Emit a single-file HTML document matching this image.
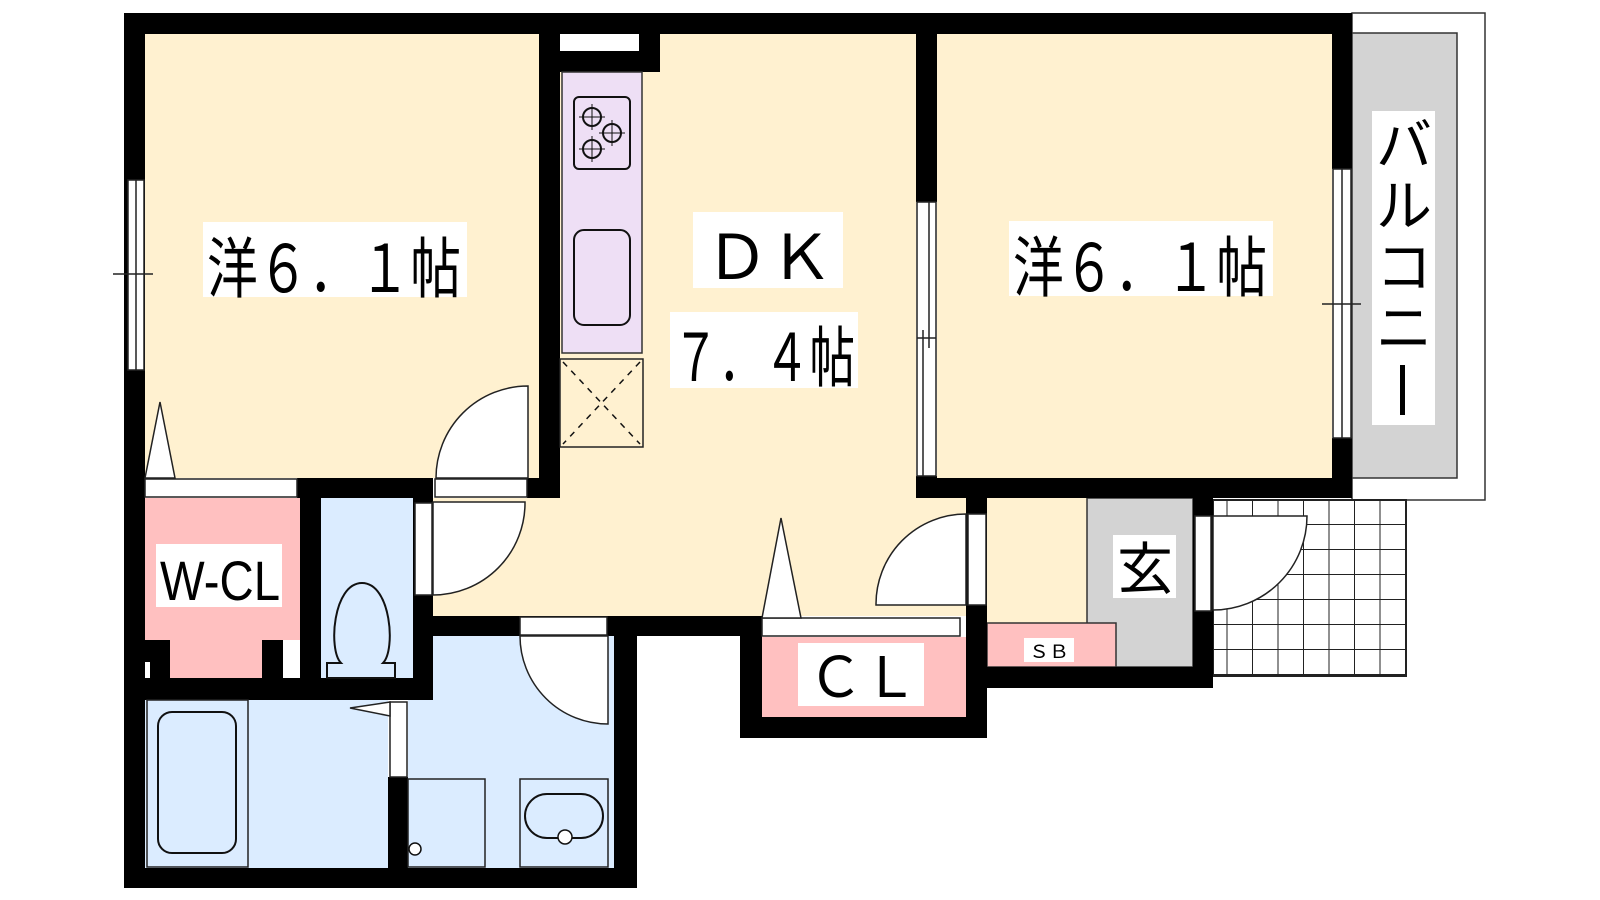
<!DOCTYPE html>
<html><head><meta charset="utf-8"><style>
html,body{margin:0;padding:0;background:#fff;}
svg{display:block;}
text{font-family:"Liberation Sans","Noto Sans CJK JP",sans-serif;fill:#000;}
</style></head><body>
<svg width="1600" height="900" viewBox="0 0 1600 900" xmlns="http://www.w3.org/2000/svg">
<defs>
<pattern id="grid" x="1202" y="475" width="25.5" height="25" patternUnits="userSpaceOnUse">
<rect width="25.5" height="25" fill="#fff"/>
<path d="M25.5 0V25M0 25H25.5" stroke="#222" stroke-width="2" fill="none"/>
</pattern>
</defs>
<rect x="1352" y="13" width="133" height="487" fill="#fff" stroke="#333" stroke-width="1.5"/>
<rect x="1352" y="33" width="105" height="445" fill="#d3d3d3" stroke="#333" stroke-width="1.5"/>
<rect x="1213" y="500" width="193" height="176" fill="url(#grid)" stroke="#222" stroke-width="2"/>
<rect x="145" y="34" width="394" height="444" fill="#fff1d0"/>
<rect x="560" y="34" width="356" height="582" fill="#fff1d0"/>
<rect x="433" y="498" width="533" height="118" fill="#fff1d0"/>
<rect x="937" y="34" width="395" height="444" fill="#fff1d0"/>
<rect x="987" y="498" width="100" height="125" fill="#fff1d0"/>
<rect x="1087" y="498" width="106" height="169" fill="#d3d3d3" stroke="#333" stroke-width="1.5"/>
<rect x="987" y="623" width="129" height="44" fill="#ffc0c0" stroke="#333" stroke-width="1.5"/>
<rect x="145" y="498" width="155" height="142" fill="#ffc0c0"/>
<rect x="170" y="640" width="92" height="38" fill="#ffc0c0"/>
<rect x="761" y="637" width="205" height="80" fill="#ffc0c0"/>
<rect x="321" y="498" width="92" height="180" fill="#dbecff"/>
<rect x="145" y="700" width="243" height="168" fill="#dbecff"/>
<rect x="408" y="636" width="206" height="232" fill="#dbecff"/>
<g fill="#000">
<rect x="124" y="13" width="1228" height="21"/>
<rect x="124" y="13" width="21" height="875"/>
<rect x="124" y="868" width="513" height="20"/>
<rect x="614" y="616" width="23" height="272"/>
<rect x="539" y="34" width="21" height="464"/>
<rect x="297" y="478" width="136" height="20"/>
<rect x="527" y="478" width="33" height="20"/>
<rect x="560" y="51" width="100" height="21"/>
<rect x="639" y="34" width="21" height="38"/>
<rect x="300" y="498" width="21" height="180"/>
<rect x="413" y="498" width="20" height="202"/>
<rect x="124" y="678" width="309" height="22"/>
<rect x="145" y="640" width="25" height="38"/>
<rect x="262" y="640" width="21" height="38"/>
<rect x="388" y="777" width="20" height="91"/>
<rect x="433" y="616" width="329" height="20"/>
<rect x="740" y="616" width="22" height="122"/>
<rect x="740" y="717" width="247" height="21"/>
<rect x="966" y="478" width="21" height="260"/>
<rect x="916" y="34" width="21" height="168"/>
<rect x="916" y="476" width="21" height="22"/>
<rect x="916" y="478" width="436" height="20"/>
<rect x="1332" y="13" width="20" height="156"/>
<rect x="1332" y="438" width="20" height="60"/>
<rect x="987" y="667" width="226" height="21"/>
<rect x="1193" y="498" width="20" height="190"/>
</g>
<rect x="145" y="662" width="5" height="16" fill="#fff"/>
<rect x="283" y="662" width="17" height="16" fill="#fff"/>
<rect x="560" y="34" width="79" height="17" fill="#fff"/>
<g stroke="#222" stroke-width="1.5" fill="#fff">
<rect x="128" y="180" width="16" height="190"/>
<line x1="136" y1="180" x2="136" y2="370"/>
<line x1="113" y1="274" x2="153" y2="274"/>
<rect x="917" y="202" width="19" height="274"/>
<line x1="929" y1="202" x2="929" y2="348"/>
<line x1="923" y1="330" x2="923" y2="476"/>
<line x1="917" y1="338" x2="936" y2="338"/>
<rect x="1333" y="169" width="18" height="269"/>
<line x1="1342" y1="169" x2="1342" y2="438"/>
<line x1="1322" y1="304" x2="1361" y2="304"/>
<rect x="145" y="479" width="152" height="18"/>
<rect x="435" y="479" width="92" height="18"/>
<rect x="762" y="618" width="198" height="18"/>
<rect x="520" y="617" width="87" height="18"/>
<rect x="415" y="503" width="17" height="92"/>
<rect x="390" y="702" width="17" height="75"/>
<rect x="968" y="514" width="18" height="91"/>
<rect x="1195" y="516" width="16" height="95"/>
<path d="M528 386 V478 H436 A92 92 0 0 1 528 386 Z"/>
<path d="M433 502 H525 A92 92 0 0 1 433 595 Z"/>
<path d="M520 636 H608 V724 A88 88 0 0 1 520 636 Z"/>
<path d="M966 514 V605 H876 A90 90 0 0 1 966 514 Z"/>
<path d="M1213 516 H1307 A94 94 0 0 1 1213 610 Z"/>
<path d="M160 402 L145 478 H175 Z"/>
<path d="M781 518 L762 618 H801 Z"/>
<path d="M350 708 L390 702 V716 Z"/>
</g>
<rect x="562" y="72" width="80" height="281" fill="#eedff5" stroke="#333" stroke-width="1.5"/>
<rect x="574" y="97" width="56" height="72" rx="5" fill="none" stroke="#111" stroke-width="2"/>
<g fill="none" stroke="#111" stroke-width="2">
<circle cx="592" cy="117" r="9"/><circle cx="612" cy="133" r="9"/><circle cx="592" cy="149" r="9"/>
<path d="M579 117h26M592 104v26M599 133h26M612 120v26M579 149h26M592 136v26" stroke-width="1"/>
</g>
<rect x="574" y="230" width="56" height="95" rx="10" fill="none" stroke="#111" stroke-width="2"/>
<rect x="560" y="359" width="83" height="88" fill="#fff1d0" stroke="#222" stroke-width="1.5"/>
<path d="M563 362 L640 444 M640 362 L563 444" stroke="#111" stroke-width="1.5" stroke-dasharray="6 6"/>
<path d="M341 663 C328 650 333 583 362 583 C391 583 396 650 383 663 H395 V678 H327 V663 Z" fill="none" stroke="#111" stroke-width="2"/>
<rect x="147" y="700" width="101" height="167" fill="none" stroke="#222" stroke-width="1.5"/>
<rect x="158" y="712" width="78" height="141" rx="14" fill="none" stroke="#111" stroke-width="2"/>
<rect x="408" y="779" width="77" height="88" fill="none" stroke="#222" stroke-width="1.5"/>
<circle cx="415" cy="849" r="6" fill="#fff" stroke="#111" stroke-width="1.5"/>
<rect x="520" y="779" width="88" height="88" fill="none" stroke="#222" stroke-width="1.5"/>
<rect x="525" y="794" width="78" height="44" rx="22" fill="none" stroke="#111" stroke-width="2"/>
<circle cx="565" cy="837" r="7" fill="#fff" stroke="#111" stroke-width="1.5"/>
<rect x="203" y="222" width="264" height="75" fill="#fff"/>
<text x="207" y="292" font-size="66" textLength="254" lengthAdjust="spacingAndGlyphs">洋６．１帖</text>
<rect x="1009" y="221" width="264" height="75" fill="#fff"/>
<text x="1013" y="291" font-size="66" textLength="254" lengthAdjust="spacingAndGlyphs">洋６．１帖</text>
<rect x="693" y="212" width="150" height="76" fill="#fff"/>
<text x="705" y="279" font-size="62" textLength="128" lengthAdjust="spacingAndGlyphs">ＤＫ</text>
<rect x="670" y="312" width="188" height="76" fill="#fff"/>
<text x="673" y="381" font-size="66" textLength="182" lengthAdjust="spacingAndGlyphs">７．４帖</text>
<rect x="156" y="544" width="126" height="63" fill="#fff"/>
<text x="160" y="600" font-size="56" textLength="120" lengthAdjust="spacingAndGlyphs">W-CL</text>
<rect x="798" y="643" width="126" height="63" fill="#fff"/>
<text x="808" y="697" font-size="56" textLength="110" lengthAdjust="spacingAndGlyphs">ＣＬ</text>
<rect x="1024" y="638" width="50" height="24" fill="#fff"/>
<text x="1029" y="658" font-size="18" textLength="40" lengthAdjust="spacingAndGlyphs">ＳＢ</text>
<rect x="1113" y="535" width="63" height="63" fill="#fff"/>
<text x="1117" y="589" font-size="56">玄</text>
<rect x="1372" y="111" width="63" height="314" fill="#fff"/>
<text font-size="56" x="1376" y="165">バ</text>
<text font-size="56" x="1376" y="226">ル</text>
<text font-size="56" x="1376" y="287">コ</text>
<text font-size="56" x="1376" y="348">ニ</text>
<rect x="1400" y="365" width="5" height="50" fill="#000"/>
</svg>
</body></html>
